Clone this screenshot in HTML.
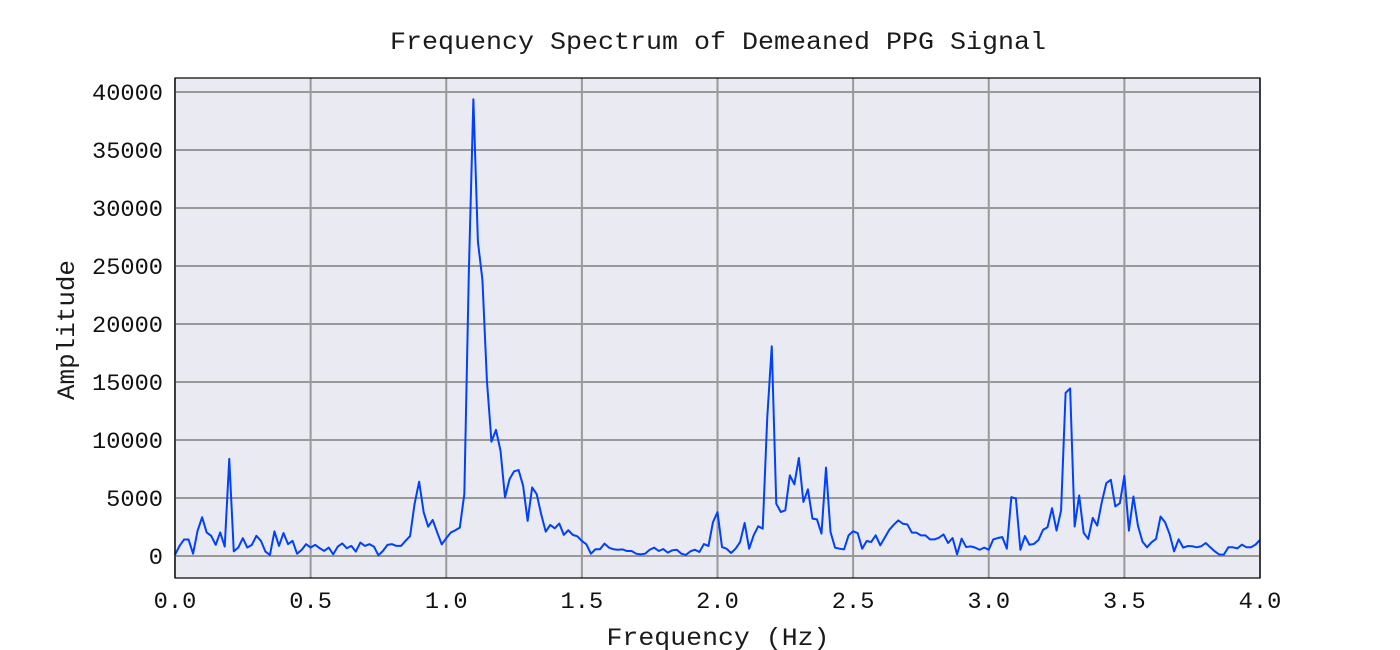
<!DOCTYPE html>
<html><head><meta charset="utf-8"><style>
html,body{margin:0;padding:0;background:#fff;}
svg{display:block;font-family:"Liberation Mono","DejaVu Sans Mono",monospace;}
</style></head><body>
<svg id="chart" width="1400" height="650" viewBox="0 0 1400 650">
<text x="718" y="49" text-anchor="middle" font-size="25" fill="#1a1a1a" textLength="656" lengthAdjust="spacingAndGlyphs">Frequency Spectrum of Demeaned PPG Signal</text>
<rect x="175" y="78" width="1085" height="500" fill="#eaeaf2"/>
<g id="grid"></g>
<g id="ticks"></g>
<polyline id="line" fill="none" stroke="#0040ff" stroke-width="2" stroke-linejoin="round"/>
<rect x="175" y="78" width="1085" height="500" fill="none" stroke="#000" stroke-width="1.2"/>
<text x="718" y="645" text-anchor="middle" font-size="25" fill="#1a1a1a" textLength="223" lengthAdjust="spacingAndGlyphs">Frequency (Hz)</text>
<text transform="translate(74,330) rotate(-90)" text-anchor="middle" font-size="25" fill="#1a1a1a" textLength="140" lengthAdjust="spacingAndGlyphs">Amplitude</text>
</svg>
<script>
const freqStep = 1/60;
const amplitudes = [100,870,1420,1420,200,2180,3340,2030,1740,960,2030,810,8370,400,730,1540,730,960,1740,1310,380,90,2120,870,1980,1020,1310,200,520,1020,
730,960,670,440,730,150,810,1080,670,870,380,1160,870,1020,810,60,440,960,1020,870,870,1310,1720,4500,6400,3780,2530,3110,2030,1000,
1530,2020,2220,2450,5340,24500,39370,27100,23800,15100,9860,10870,9080,5050,6630,7300,7410,6060,3030,5910,5340,3600,2100,2680,2390,2800,1820,2220,1820,1700,
1300,1010,200,580,580,1070,720,580,540,570,430,430,200,140,200,540,720,430,600,290,490,540,200,90,400,540,350,1030,860,2920,
3780,770,630,260,630,1200,2850,630,1780,2560,2360,11900,18080,4510,3790,3940,6950,6180,8450,4660,5750,3220,3160,1930,7620,2070,720,630,570,1780,
2130,1980,630,1290,1210,1780,920,1580,2260,2700,3070,2780,2720,2010,2010,1780,1780,1430,1430,1580,1860,1120,1550,140,1490,770,830,720,540,720,
540,1430,1550,1630,630,5070,4960,540,1720,970,1040,1380,2250,2480,4120,2190,3920,14060,14440,2540,5220,1990,1470,3290,2620,4640,6280,6570,4270,4550,
6920,2190,5130,2620,1240,750,1180,1470,3400,2910,1900,400,1440,720,860,840,750,840,1120,750,400,120,120,750,750,660,980,750,750,980,1380];
const xTicks = [0.0,0.5,1.0,1.5,2.0,2.5,3.0,3.5,4.0];
const xTickLabels = ["0.0","0.5","1.0","1.5","2.0","2.5","3.0","3.5","4.0"];
const yTicks = [0,5000,10000,15000,20000,25000,30000,35000,40000];
const yTickLabels = ["0","5000","10000","15000","20000","25000","30000","35000","40000"];

const L=175,R=1260,T=78,B=578;
const xMin=0,xMax=4,yMin=-1897,yMax=41207;
const xs=v=>L+(v-xMin)/(xMax-xMin)*(R-L);
const ys=v=>B-(v-yMin)/(yMax-yMin)*(B-T);
const NS="http://www.w3.org/2000/svg";
const CW=14.2;
const grid=document.getElementById('grid'), ticks=document.getElementById('ticks');
xTicks.forEach((t,i)=>{
  const x=xs(t);
  const g=document.createElementNS(NS,'line');
  g.setAttribute('x1',x);g.setAttribute('x2',x);g.setAttribute('y1',T);g.setAttribute('y2',B);
  g.setAttribute('stroke','#999');g.setAttribute('stroke-width','2');
  
  
  grid.appendChild(g);
  const tx=document.createElementNS(NS,'text');
  tx.setAttribute('x',x);tx.setAttribute('y',608);tx.setAttribute('text-anchor','middle');
  tx.setAttribute('font-size','23');tx.setAttribute('fill','#111');
  tx.setAttribute('textLength',(xTickLabels[i].length*CW).toFixed(1));
  tx.setAttribute('lengthAdjust','spacingAndGlyphs');
  tx.textContent=xTickLabels[i];
  
  
  ticks.appendChild(tx);
});
yTicks.forEach((t,i)=>{
  const y=ys(t);
  const g=document.createElementNS(NS,'line');
  g.setAttribute('x1',L);g.setAttribute('x2',R);g.setAttribute('y1',y);g.setAttribute('y2',y);
  g.setAttribute('stroke','#999');g.setAttribute('stroke-width','2');
  
  
  grid.appendChild(g);
  const tx=document.createElementNS(NS,'text');
  tx.setAttribute('x',163);tx.setAttribute('y',y+8);tx.setAttribute('text-anchor','end');
  tx.setAttribute('font-size','23');tx.setAttribute('fill','#111');
  tx.setAttribute('textLength',(yTickLabels[i].length*CW).toFixed(1));
  tx.setAttribute('lengthAdjust','spacingAndGlyphs');
  tx.textContent=yTickLabels[i];
  
  
  ticks.appendChild(tx);
});
const pts=amplitudes.map((v,i)=>xs(i*freqStep).toFixed(2)+','+ys(v).toFixed(2)).join(' ');
document.getElementById('line').setAttribute('points',pts);
</script>
</body></html>
